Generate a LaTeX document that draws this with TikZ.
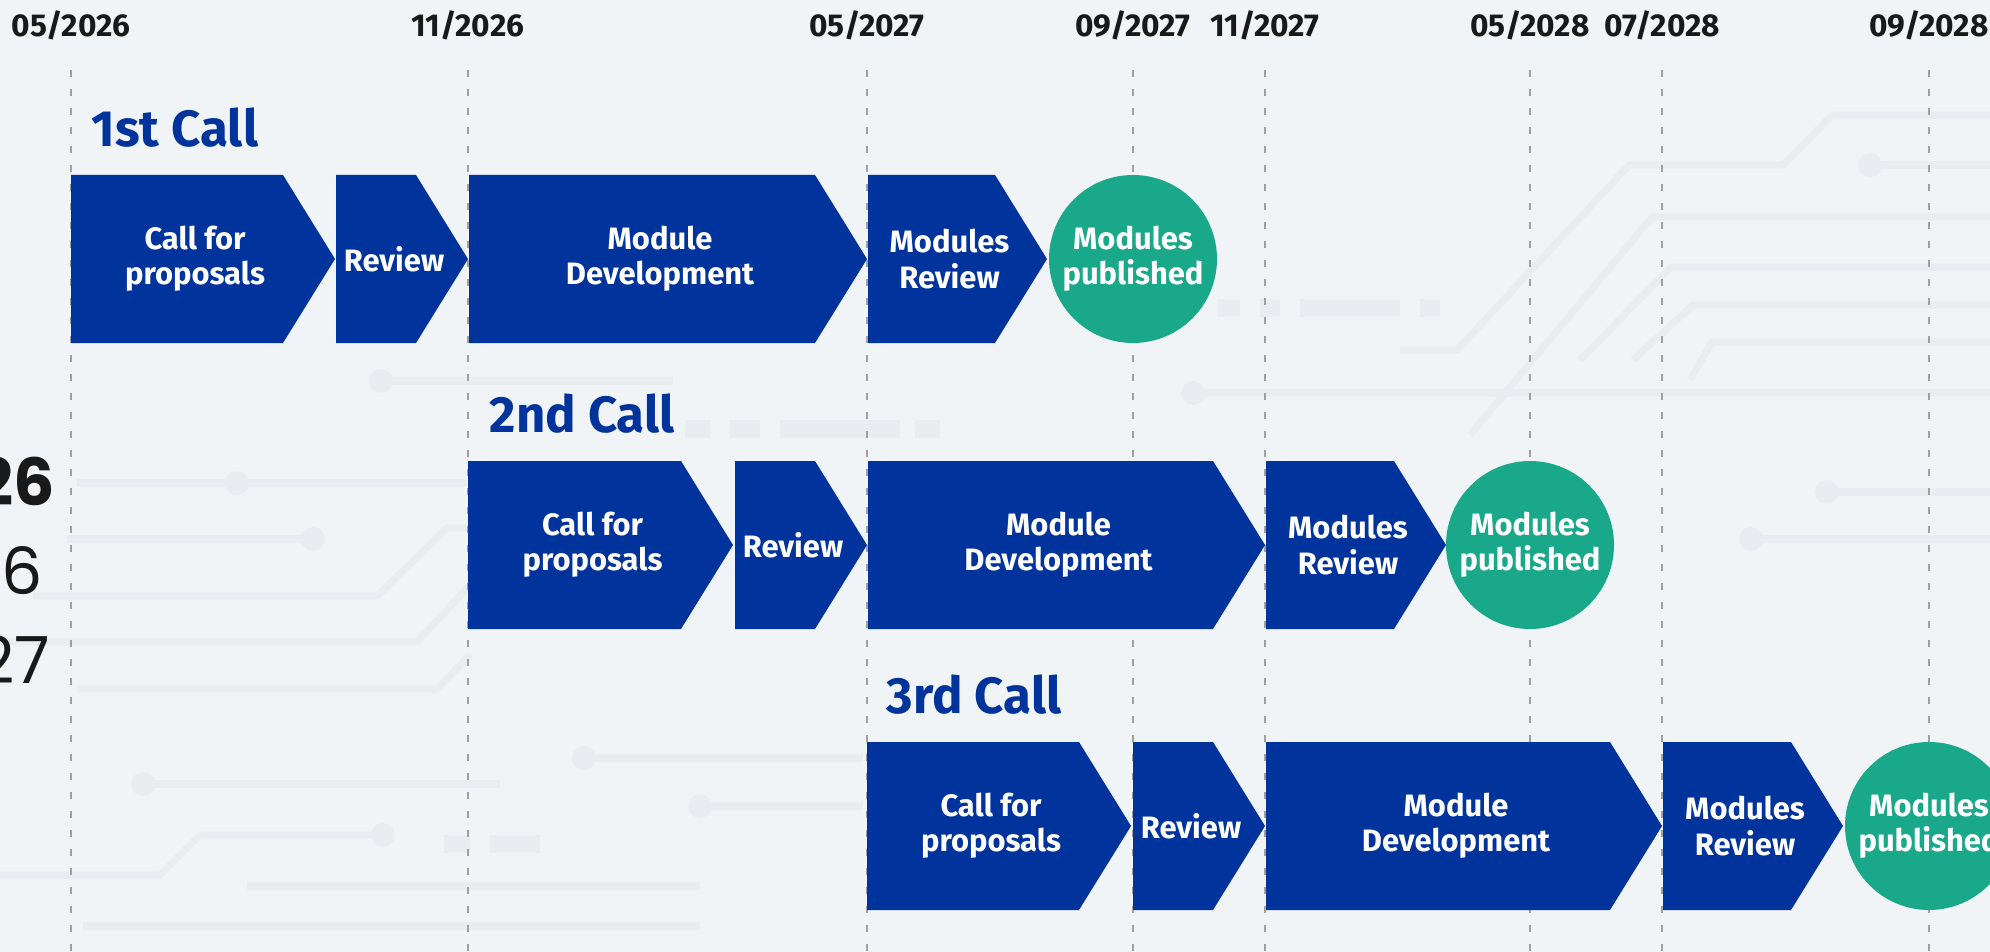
\documentclass[tikz,border=0pt]{standalone}
\usepackage{fontspec}
\setmainfont{Fira Sans}
\newfontfamily\fragfont{Poppins}

\definecolor{callblue}{RGB}{0,51,156}
\definecolor{pubgreen}{RGB}{26,168,138}
\definecolor{bgpaper}{RGB}{241,244,247}
\definecolor{bgtrace}{RGB}{233,237,241}
\definecolor{guidegray}{RGB}{160,160,160}
\definecolor{datetext}{RGB}{25,25,25}

\tikzset{
	phasetext/.style={text=white, font=\bfseries\fontsize{8.8}{10}\selectfont, align=center, inner sep=0pt},
	published/.style={circle, fill=pubgreen, minimum size=16.8mm, inner sep=0pt, text=white, font=\bfseries\fontsize{8.8}{10}\selectfont, align=center},
	guide/.style={draw=guidegray, line width=0.5pt, dash pattern=on 0.7mm off 1.2mm},
	datelabel/.style={font=\bfseries\fontsize{9}{10}\selectfont, text=datetext, anchor=base, inner sep=0pt},
	calltitle/.style={font=\bfseries\fontsize{14.5}{16}\selectfont, text=callblue, anchor=base west, inner sep=0pt},
	trace/.style={draw=bgtrace, line width=2pt, line join=round},
	pad/.style={fill=bgtrace},
	block/.style={draw=bgtrace, line width=5pt},
}

% name, left, tip, middle y, text
\newcommand{\phase}[5]{%
	\fill[callblue] (#2,#4-84) -- ({#3-52},#4-84) -- (#3,#4) -- ({#3-52},#4+84) -- (#2,#4+84) -- cycle;
	\node[phasetext] (#1) at ({(#2+#3)/2-8},#4) {#5};}

\begin{document}
\begin{tikzpicture}[x=0.1mm, y=-0.1mm]
	\fill[bgpaper] (0,0) rectangle (1990,952); % paper
	\useasboundingbox (0,0) rectangle (1990,952);
	% faint circuit traces
	\draw[trace] (1400,350) -- (1457,350) -- (1629,165) -- (1783,165) -- (1832,115) -- (1990,115);
	\draw[trace] (1870,165) -- (1990,165); \fill[pad] (1870,165) circle(12);
	\draw[trace] (1470,435) -- (1652,217) -- (1990,217);
	\draw[trace] (1580,360) -- (1671,267) -- (1990,267);
	\draw[trace] (1633,360) -- (1693,305) -- (1990,305);
	\draw[trace] (1690,380) -- (1712,342) -- (1990,342);
	\draw[trace] (1193,393) -- (1990,393); \fill[pad] (1193,393) circle(12);
	\draw[trace] (1751,539) -- (1990,539); \fill[pad] (1751,539) circle(12);
	\draw[trace] (1827,492) -- (1990,492); \fill[pad] (1827,492) circle(12);
	\draw[trace] (381,381) -- (673,381); \fill[pad] (381,381) circle(12);
	\draw[trace] (77,483) -- (467,483); \fill[pad] (237,483) circle(12);
	\draw[trace] (67,539) -- (313,539); \fill[pad] (313,539) circle(12);
	\draw[trace] (33,596) -- (377,596) -- (447,528) -- (470,528);
	\draw[trace] (0,642) -- (417,642) -- (470,585);
	\draw[trace] (77,689) -- (437,689) -- (470,655);
	\draw[trace] (143,784) -- (500,784); \fill[pad] (143,784) circle(12);
	\draw[trace] (383,835) -- (200,835) -- (160,875) -- (0,875); \fill[pad] (383,835) circle(12);
	\draw[trace] (247,886) -- (700,886);
	\draw[trace] (83,926) -- (700,926);
	\draw[trace] (584,758) -- (863,758); \fill[pad] (584,758) circle(12);
	\draw[trace] (700,806) -- (863,806); \fill[pad] (700,806) circle(12);
	\draw[block] (685,429) -- (710,429) (730,429) -- (760,429) (780,429) -- (900,429) (915,429) -- (940,429);
	\draw[block] (1218,308) -- (1240,308) (1260,308) -- (1280,308) (1300,308) -- (1400,308) (1420,308) -- (1440,308);
	\draw[block] (444,844) -- (470,844) (490,844) -- (540,844);
	% date guides
	\foreach \x/\m/\yr [count=\i] in {71/05/2026, 468/11/2026, 867/05/2027, 1133/09/2027, 1265/11/2027, 1530/05/2028, 1662/07/2028, 1929/09/2028} {
		\node[datelabel] (date\i) at (\x,37) {\m/\yr};
		\coordinate (top\i) at (\x,70);
		\coordinate (bot\i) at (\x,952);
		\draw[guide] (top\i) -- (bot\i);
	}
	% cut-off years on the left
	\node[anchor=base east, inner sep=0pt, text=datetext, font=\fragfont\bfseries\fontsize{18.5}{20}\selectfont] (year1) at (56,505) {26};
	\node[anchor=base east, inner sep=0pt, text=datetext, font=\fragfont\fontsize{18.5}{20}\selectfont] (year2) at (43,594) {6};
	\node[anchor=base east, inner sep=0pt, text=datetext, font=\fragfont\fontsize{18.5}{20}\selectfont] (year3) at (51,683) {27};
	% 1st call
	\node[calltitle] (title1) at (91,147) {1st Call};
	\phase{cfp1}{71}{335}{259}{Call for\\proposals}
	\phase{rev1}{336}{468}{259}{Review}
	\phase{dev1}{469}{867}{259}{Module\\Development}
	\phase{mrev1}{868}{1047}{259}{Modules\\Review}
	\node[published] (pub1) at (1133,259) {Modules\\published};
	% 2nd call
	\node[calltitle] (title2) at (489,432) {2nd Call};
	\phase{cfp2}{468}{733}{545}{Call for\\proposals}
	\phase{rev2}{735}{867}{545}{Review}
	\phase{dev2}{868}{1265}{545}{Module\\Development}
	\phase{mrev2}{1266}{1446}{545}{Modules\\Review}
	\node[published] (pub2) at (1530,545) {Modules\\published};
	% 3rd call
	\node[calltitle] (title3) at (886,713) {3rd Call};
	\phase{cfp3}{867}{1131}{826}{Call for\\proposals}
	\phase{rev3}{1133}{1265}{826}{Review}
	\phase{dev3}{1266}{1662}{826}{Module\\Development}
	\phase{mrev3}{1663}{1843}{826}{Modules\\Review}
	\node[published] (pub3) at (1929,826) {Modules\\published};
\end{tikzpicture}
\end{document}
